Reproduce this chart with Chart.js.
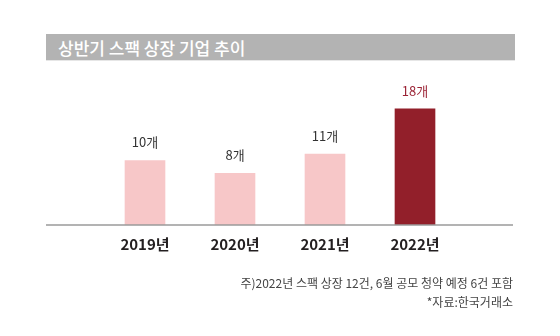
<!DOCTYPE html>
<html>
<head>
<meta charset="utf-8">
<script src="https://cdn.jsdelivr.net/npm/chart.js@4"></script>
<style>
  html, body { margin: 0; padding: 0; background: #fff; }
  #wrap { position: relative; width: 560px; height: 336px; font-family: "Noto Sans CJK KR", "Noto Sans", sans-serif; }
  #title { position: absolute; left: 46px; top: 34px; width: 469px; height: 27px; background: #b3b3b3;
           border-bottom: 1px solid #e6e6e6; color: #fff; font-size: 17px; font-weight: 500;
           line-height: 27px; padding-left: 12px; box-sizing: border-box; }
  .note { position: absolute; right: 47px; font-size: 12px; color: #444; line-height: 16px; }
  canvas { position: absolute; left: 0; top: 0; }
</style>
</head>
<body>
<div id="wrap">
  <canvas id="spac" width="560" height="336"></canvas>
  <div id="title">상반기 스팩 상장 기업 추이</div>
  <div class="note" style="top:275px">주)2022년 스팩 상장 12건, 6월 공모 청약 예정 6건 포함</div>
  <div class="note" style="top:294px">*자료:한국거래소</div>
</div>
<script>
const years = ['2019년', '2020년', '2021년', '2022년'];
const counts = [10, 8, 11, 18];
const barColors = ['#f7c7c8', '#f7c7c8', '#f7c7c8', '#921f2a'];
const labelColors = ['#333333', '#333333', '#333333', '#9b2335'];

const ctxSpac = document.getElementById('spac');

// baseline + value labels drawn on top of the bars
const spacExtras = {
    id: 'spacExtras',
    afterDatasetsDraw(chart) {
        const c = chart.ctx;
        const y0 = chart.scales.y.getPixelForValue(0);
        c.save();
        c.strokeStyle = '#9a9a9a';
        c.lineWidth = 1.5;
        c.beginPath();
        c.moveTo(46, y0);
        c.lineTo(513, y0);
        c.stroke();
        c.font = '13px "Noto Sans CJK KR"';
        c.textAlign = 'center';
        c.textBaseline = 'middle';
        chart.getDatasetMeta(0).data.forEach((bar, i) => {
            c.fillStyle = labelColors[i];
            c.fillText(counts[i] + '개', bar.x, bar.y - 18);
        });
        c.restore();
    }
};

const chartSpac = new Chart(ctxSpac, {
    type: 'bar',
    data: {
        labels: years,
        datasets: [{
            data: counts,
            backgroundColor: barColors,
            borderWidth: 0,
            barThickness: 40
        }]
    },
    plugins: [spacExtras],
    options: {
        responsive: false,
        animation: false,
        layout: { padding: { left: 100, right: 100, top: 96, bottom: 81 } },
        plugins: { legend: { display: false }, tooltip: { enabled: false } },
        scales: {
            x: {
                grid: { display: false },
                border: { display: false },
                ticks: {
                    color: '#231f20',
                    padding: 2,
                    font: { family: 'Noto Sans CJK KR', size: 15, weight: 'bold' }
                },
                afterFit: s => { s.height = 30; }
            },
            y: {
                display: false,
                min: 0,
                max: 20
            }
        }
    }
});
</script>
</body>
</html>
